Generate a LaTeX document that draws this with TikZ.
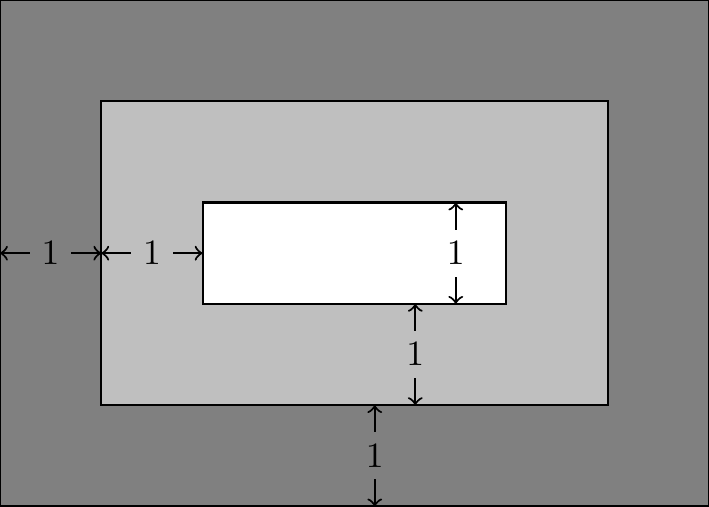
\documentclass[tikz,border=0pt]{standalone}
\usetikzlibrary{arrows}
\tikzset{cote/.style={<->,>=to},lab/.style={fill=#1}}
\begin{document}
\begin{tikzpicture}[semithick]
\useasboundingbox (0,0) rectangle (7,5);
\draw[fill=gray] (0,0) rectangle (7,5);
\draw[fill=lightgray] (1,1) rectangle (6,4);
\draw[fill=white] (2,2) rectangle (5,3);
%horizontal
\draw[cote] (0,2.5) -- (1,2.5) node[midway,lab=gray] (h1) {$1$};
\draw[cote] (1,2.5) -- (2,2.5) node[midway,lab=lightgray] (h2) {$1$};
%vertical
\draw[cote] (4.5,3) -- (4.5,2) node[midway,lab=white] (v1) {$1$};
\draw[cote] (4.1,2) -- (4.1,1) node[midway,lab=lightgray] (v2) {$1$};
\draw[cote] (3.7,1) -- (3.7,0) node[midway,lab=gray] (v3) {$1$};
\end{tikzpicture}
\end{document}
